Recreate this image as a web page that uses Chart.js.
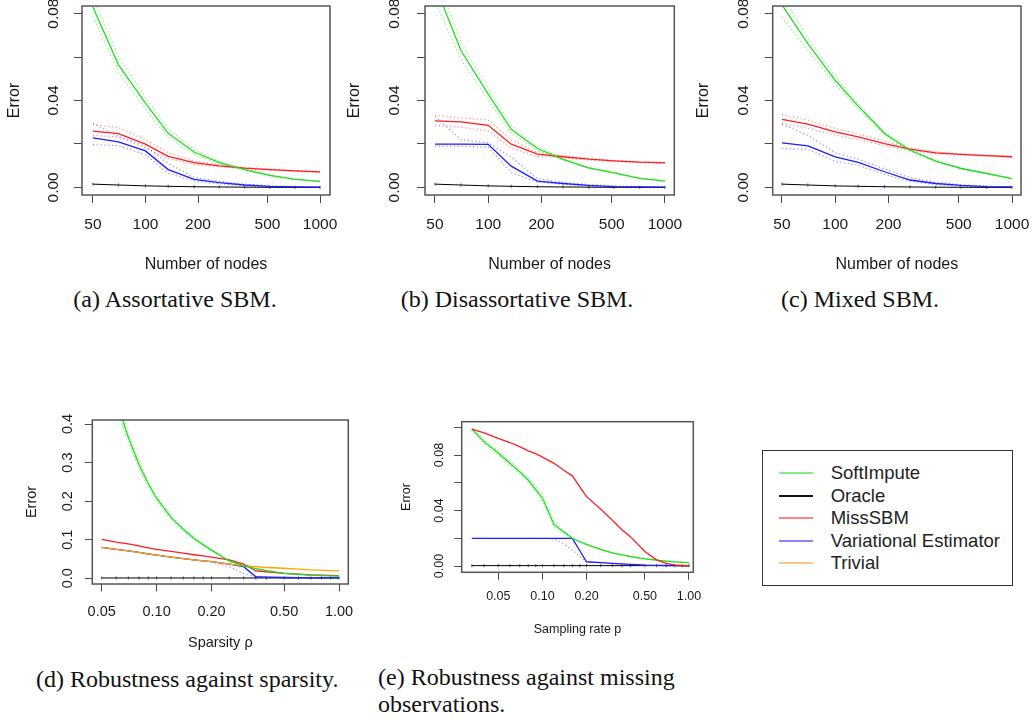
<!DOCTYPE html>
<html>
<head>
<meta charset="utf-8">
<script src="https://cdn.jsdelivr.net/npm/chart.js@4.4.1/dist/chart.umd.min.js"></script>
<style>
html,body{margin:0;padding:0;background:#fff;width:1034px;height:723px;overflow:hidden;position:relative;}
canvas{position:absolute;}
.cap{position:absolute;font-family:'Liberation Serif','Times New Roman',serif;font-size:24px;line-height:27px;color:#111;white-space:nowrap;}
.ctr{transform:translateX(-50%);}
#legend{position:absolute;left:762px;top:450px;width:251px;height:136px;box-sizing:border-box;border:1px solid #333;font-family:'Liberation Sans',Arial,sans-serif;font-size:18.5px;color:#222;}
.li{position:absolute;left:0;width:100%;height:22px;line-height:22px;}
.li .sw{position:absolute;left:16px;width:34px;top:10px;height:2px;}
.li .tx{position:absolute;left:67.7px;top:0;white-space:nowrap;}
</style>
</head>
<body>
<canvas id="pa"></canvas>
<canvas id="pb"></canvas>
<canvas id="pc"></canvas>
<canvas id="pd"></canvas>
<canvas id="pe"></canvas>

<div class="cap ctr" style="left:175px;top:286px;">(a) Assortative SBM.</div>
<div class="cap ctr" style="left:517px;top:286px;">(b) Disassortative SBM.</div>
<div class="cap ctr" style="left:860px;top:286px;">(c) Mixed SBM.</div>
<div class="cap" style="left:36px;top:666px;">(d) Robustness against sparsity.</div>
<div class="cap" style="left:378px;top:664px;">(e) Robustness against missing<br>observations.</div>

<div id="legend"></div>

<script>
// ---------- categories / tick labels ----------
const NODES = [50, 70, 100, 135, 190, 265, 370, 515, 720, 1000];
const NODE_TICKS = [50, 100, 200, 500, 1000];
const NODE_TICK_LABELS = ['50', '100', '200', '500', '1000'];
const ERR_TICKS_ABC = [0, 0.02, 0.04, 0.06, 0.08];
const ERR_LABELS_ABC = ['0.00', '', '0.04', '', '0.08'];

const RHO = [0.05, 0.06, 0.07, 0.08, 0.09, 0.10, 0.12, 0.14, 0.16, 0.18, 0.20, 0.25, 0.30, 0.35, 0.40, 0.50, 0.60, 0.70, 0.80, 0.90, 1.00];
const RHO_TICKS = [0.05, 0.10, 0.20, 0.50, 1.00];
const RHO_TICK_LABELS = ['0.05', '0.10', '0.20', '0.50', '1.00'];
const ERR_TICKS_D = [0, 0.1, 0.2, 0.3, 0.4];
const ERR_LABELS_D = ['0.0', '0.1', '0.2', '0.3', '0.4'];

const PRATE = [0.033, 0.04, 0.05, 0.06, 0.07, 0.08, 0.09, 0.10, 0.12, 0.14, 0.16, 0.18, 0.20, 0.25, 0.30, 0.35, 0.40, 0.50, 0.60, 0.70, 0.80, 0.90, 1.00];
const PRATE_TICKS = [0.05, 0.10, 0.20, 0.50, 1.00];
const PRATE_TICK_LABELS = ['0.05', '0.10', '0.20', '0.50', '1.00'];
const ERR_TICKS_E = [0, 0.02, 0.04, 0.06, 0.08, 0.10];
const ERR_LABELS_E = ['0.00', '', '0.04', '', '0.08', ''];

const SERIES_NAMES = ['SoftImpute', 'Oracle', 'MissSBM', 'Variational Estimator', 'Trivial'];

// ---------- (a) Assortative SBM ----------
const A_soft    = [0.083, 0.0564, 0.0388, 0.0249, 0.0163, 0.0114, 0.0082, 0.0055, 0.0037, 0.0028];
const A_soft_hi = [0.088, 0.060, 0.0415, 0.027, 0.0175, 0.012, 0.0086, 0.0058, 0.0039, 0.0029];
const A_soft_lo = [0.0785, 0.053, 0.036, 0.023, 0.0152, 0.0108, 0.0078, 0.0052, 0.0035, 0.0027];
const A_miss    = [0.0259, 0.0248, 0.0199, 0.0143, 0.0114, 0.0099, 0.0089, 0.0082, 0.0076, 0.0071];
const A_miss_hi = [0.029, 0.0275, 0.022, 0.016, 0.0122, 0.0104, 0.0092, 0.0085, 0.0078, 0.0073];
const A_miss_lo = [0.024, 0.0232, 0.018, 0.0132, 0.0107, 0.0095, 0.0086, 0.0079, 0.0074, 0.0069];
const A_var     = [0.0228, 0.021, 0.0168, 0.0082, 0.0037, 0.0022, 0.0011, 0.0005, 0.0002, 0.0001];
const A_var_hi  = [0.0295, 0.0235, 0.019, 0.011, 0.0046, 0.0028, 0.0015, 0.0008, 0.0004, 0.0002];
const A_var_lo  = [0.0197, 0.0192, 0.015, 0.0065, 0.003, 0.0017, 0.0008, 0.0003, 0.0001, 0.0];
const A_oracle  = [0.0015, 0.0011, 0.0007, 0.0005, 0.0003, 0.0002, 0.0001, 0.00005, 0.00002, 0.0];

// ---------- (b) Disassortative SBM ----------
const B_soft    = [0.093, 0.0631, 0.0429, 0.0267, 0.0179, 0.0129, 0.009, 0.0067, 0.0042, 0.0029];
const B_soft_hi = [0.099, 0.067, 0.0455, 0.0285, 0.0188, 0.0133, 0.0093, 0.0069, 0.0043, 0.003];
const B_soft_lo = [0.086, 0.059, 0.040, 0.025, 0.017, 0.0125, 0.0087, 0.0065, 0.0041, 0.0028];
const B_miss    = [0.0306, 0.0302, 0.0286, 0.0199, 0.0153, 0.0141, 0.013, 0.0122, 0.0116, 0.0113];
const B_miss_hi = [0.0332, 0.032, 0.031, 0.022, 0.016, 0.0146, 0.0134, 0.0125, 0.0118, 0.0115];
const B_miss_lo = [0.0285, 0.0278, 0.0259, 0.018, 0.0143, 0.0136, 0.0126, 0.0119, 0.0114, 0.0111];
const B_var     = [0.0199, 0.0199, 0.0198, 0.0098, 0.0029, 0.0018, 0.0009, 0.0004, 0.0002, 0.0001];
const B_var_hi  = [0.0327, 0.022, 0.0205, 0.014, 0.004, 0.0024, 0.0013, 0.0007, 0.0004, 0.0002];
const B_var_lo  = [0.019, 0.019, 0.0185, 0.0068, 0.0025, 0.0014, 0.0006, 0.0002, 0.0001, 0.0];
const B_oracle  = [0.0015, 0.0011, 0.0007, 0.0005, 0.0003, 0.0002, 0.0001, 0.00005, 0.00002, 0.0];

// ---------- (c) Mixed SBM ----------
const C_soft    = [0.084, 0.0662, 0.0493, 0.0374, 0.0248, 0.0171, 0.0121, 0.0087, 0.0064, 0.004];
const C_soft_hi = [0.088, 0.069, 0.051, 0.0385, 0.0255, 0.0175, 0.0124, 0.0089, 0.0065, 0.0041];
const C_soft_lo = [0.0785, 0.063, 0.0475, 0.036, 0.024, 0.0167, 0.0118, 0.0085, 0.0063, 0.0039];
const C_miss    = [0.0313, 0.0291, 0.0256, 0.0233, 0.0202, 0.0176, 0.0159, 0.0152, 0.0146, 0.0141];
const C_miss_hi = [0.0336, 0.031, 0.0272, 0.0247, 0.0213, 0.0183, 0.0163, 0.0155, 0.0148, 0.0143];
const C_miss_lo = [0.0294, 0.0273, 0.024, 0.022, 0.0192, 0.017, 0.0155, 0.0149, 0.0144, 0.0139];
const C_var     = [0.0205, 0.0191, 0.0141, 0.0115, 0.0072, 0.0034, 0.0018, 0.0009, 0.0004, 0.0002];
const C_var_hi  = [0.029, 0.024, 0.016, 0.013, 0.0085, 0.0045, 0.0024, 0.0012, 0.0006, 0.0003];
const C_var_lo  = [0.0179, 0.0175, 0.012, 0.0102, 0.006, 0.0028, 0.0013, 0.0006, 0.0002, 0.0001];
const C_oracle  = [0.0015, 0.0011, 0.0007, 0.0005, 0.0003, 0.0002, 0.0001, 0.00005, 0.00002, 0.0];

// ---------- (d) Robustness against sparsity ----------
const D_soft    = [0.57, 0.46, 0.365, 0.295, 0.245, 0.207, 0.158, 0.127, 0.104, 0.087, 0.073, 0.045, 0.032, 0.025, 0.02, 0.013, 0.010, 0.008, 0.007, 0.0065, 0.006];
const D_soft_hi = [0.59, 0.475, 0.378, 0.305, 0.253, 0.214, 0.163, 0.131, 0.107, 0.09, 0.075, 0.047, 0.033, 0.026, 0.021, 0.0135, 0.0105, 0.0085, 0.0075, 0.007, 0.0065];
const D_soft_lo = [0.55, 0.445, 0.352, 0.285, 0.237, 0.2, 0.153, 0.123, 0.101, 0.084, 0.071, 0.043, 0.031, 0.024, 0.019, 0.0125, 0.0095, 0.0075, 0.0065, 0.006, 0.0055];
const D_miss    = [0.101, 0.094, 0.089, 0.084, 0.079, 0.075, 0.07, 0.065, 0.061, 0.058, 0.055, 0.0475, 0.037, 0.019, 0.017, 0.013, 0.011, 0.009, 0.008, 0.0075, 0.007];
const D_triv    = [0.080, 0.075, 0.071, 0.067, 0.063, 0.060, 0.055, 0.051, 0.048, 0.045, 0.043, 0.037, 0.032, 0.030, 0.028, 0.026, 0.024, 0.022, 0.021, 0.020, 0.019];
const D_var     = [0.080, 0.075, 0.071, 0.067, 0.063, 0.060, 0.055, 0.051, 0.048, 0.045, 0.043, 0.037, 0.030, 0.004, 0.003, 0.002, 0.0015, 0.001, 0.001, 0.001, 0.001];
const D_var_lo  = [0.080, 0.075, 0.071, 0.067, 0.063, 0.060, 0.055, 0.051, 0.048, 0.045, 0.042, 0.030, 0.012, 0.003, 0.0025, 0.0015, 0.001, 0.001, 0.0008, 0.0008, 0.0008];
const D_oracle  = [0.0008, 0.0008, 0.0008, 0.0008, 0.0008, 0.0008, 0.0008, 0.0008, 0.0008, 0.0008, 0.0008, 0.0008, 0.0008, 0.0008, 0.0008, 0.0008, 0.0008, 0.0008, 0.0008, 0.0008, 0.0008];

// ---------- (e) Robustness against missing observations ----------
const E_miss    = [0.0987, 0.096, 0.092, 0.089, 0.086, 0.083, 0.081, 0.0785, 0.074, 0.069, 0.065, 0.057, 0.050, 0.041, 0.033, 0.026, 0.021, 0.0105, 0.0045, 0.002, 0.0008, 0.0004, 0.0002];
const E_soft    = [0.0987, 0.0895, 0.0815, 0.074, 0.068, 0.062, 0.055, 0.049, 0.030, 0.0245, 0.020, 0.0175, 0.0156, 0.012, 0.0095, 0.008, 0.0068, 0.0052, 0.0042, 0.0035, 0.003, 0.0027, 0.0024];
const E_soft_hi = [0.0995, 0.091, 0.083, 0.0755, 0.0695, 0.064, 0.0575, 0.0515, 0.032, 0.0255, 0.0205, 0.018, 0.016, 0.0123, 0.0097, 0.0082, 0.007, 0.0053, 0.0043, 0.0036, 0.0031, 0.0028, 0.0025];
const E_soft_lo = [0.098, 0.088, 0.080, 0.0725, 0.0665, 0.060, 0.053, 0.0465, 0.028, 0.0235, 0.0195, 0.017, 0.0152, 0.0117, 0.0093, 0.0078, 0.0066, 0.0051, 0.0041, 0.0034, 0.0029, 0.0026, 0.0023];
const E_var     = [0.020, 0.020, 0.020, 0.020, 0.020, 0.020, 0.020, 0.020, 0.020, 0.020, 0.020, 0.011, 0.0031, 0.0025, 0.0019, 0.0015, 0.0012, 0.0007, 0.0005, 0.0004, 0.0003, 0.0002, 0.0002];
const E_var_lo  = [0.020, 0.020, 0.020, 0.020, 0.020, 0.020, 0.020, 0.020, 0.0195, 0.016, 0.0115, 0.007, 0.003, 0.0023, 0.0017, 0.0013, 0.001, 0.0006, 0.0004, 0.0003, 0.0002, 0.0001, 0.0001];
const E_oracle  = [0.0003, 0.0003, 0.0003, 0.0003, 0.0003, 0.0003, 0.0003, 0.0003, 0.0003, 0.0003, 0.0003, 0.0003, 0.0003, 0.0003, 0.0003, 0.0003, 0.0003, 0.0003, 0.0003, 0.0003, 0.0003, 0.0003, 0.0003];

// ---------- styles ----------
const FAMILY = "'Liberation Sans', Arial, sans-serif";
const INK = '#1a1a1a';
const AXIS = '#4a4a4a';
const COL = {
  green: '#22dd22', greenLight: 'rgba(34,221,34,0.55)', greenLeg: '#86ee86',
  red: '#ff1e1e', redLight: 'rgba(255,30,30,0.5)', redLeg: '#ff8585',
  blue: '#1e1eff', blueLight: 'rgba(30,30,255,0.5)', blueLeg: '#8585ff',
  orange: '#ffa500', orangeLeg: '#ffc680',
  black: '#000000', blackLeg: '#111111'
};

function solid(xs, ys, color) {
  return { data: xs.map((x, i) => ({ x: x, y: ys[i] })), borderColor: color, borderWidth: 1.3,
           pointRadius: 0, tension: 0, fill: false };
}
function dotted(xs, ys, color) {
  return { data: xs.map((x, i) => ({ x: x, y: ys[i] })), borderColor: color, borderWidth: 1.2,
           borderDash: [1.2, 2.6], pointRadius: 0, tension: 0, fill: false };
}
function oracle(xs, ys) {
  return { data: xs.map((x, i) => ({ x: x, y: ys[i] })), borderColor: COL.black, borderWidth: 1,
           pointStyle: 'line', pointRotation: 90, pointRadius: 1.6, pointBorderColor: 'rgba(0,0,0,0.7)',
           pointBorderWidth: 0.9, tension: 0, fill: false };
}

const boxPlugin = {
  id: 'rbox',
  afterDraw(chart) {
    const { ctx, chartArea: a } = chart;
    ctx.save();
    ctx.strokeStyle = '#555';
    ctx.lineWidth = 1.5;
    ctx.strokeRect(a.left, a.top, a.right - a.left, a.bottom - a.top);
    ctx.restore();
  }
};

function makeChart(p) {
  const cv = document.getElementById(p.id);
  cv.width = p.w; cv.height = p.h;
  cv.style.left = p.left + 'px'; cv.style.top = p.top + 'px';
  const tickFont = { family: FAMILY, size: p.tickSize };
  const titleFont = { family: FAMILY, size: p.titleSize };
  const m = document.createElement('canvas').getContext('2d');
  m.font = p.tickSize + 'px ' + FAMILY;
  const widest = Math.max.apply(null, p.yLabels.map(s => m.measureText(s).width));
  const yPad = p.yLabelDist - p.tl - widest / 2;
  const tlh = p.tickSize * 1.2, ttl = p.titleSize * 1.2;
  const xTickPad = p.xLabelY - p.box.b - p.tl - tlh / 2;
  const xTitlePad = p.h - p.xTitleY - ttl / 2;
  const yTitlePad = p.yTitleX - ttl / 2;
  const grid = { display: true, drawOnChartArea: false, drawTicks: true, tickLength: p.tl, color: AXIS, lineWidth: 1 };
  new Chart(cv, {
    type: 'line',
    data: { datasets: p.datasets },
    options: {
      responsive: false, animation: false, events: [], devicePixelRatio: 1,
      layout: { padding: { left: 0, right: p.w - p.box.r, top: p.box.t, bottom: 0 } },
      plugins: { legend: { display: false }, tooltip: { enabled: false }, title: { display: false } },
      scales: {
        x: {
          type: 'logarithmic', position: 'bottom', min: p.xMin, max: p.xMax, bounds: 'data',
          afterBuildTicks: s => { s.ticks = p.xTicks.map(v => ({ value: v })); },
          afterFit: s => { s.height = p.h - p.box.b; s.paddingLeft = 0; s.paddingRight = 0; s.paddingTop = 0; s.paddingBottom = 0; },
          ticks: { autoSkip: false, minRotation: 0, maxRotation: 0, padding: xTickPad, font: tickFont, color: INK,
                   callback: (v, i) => p.xLabels[i] },
          grid: grid, border: { display: false },
          title: { display: true, text: p.xTitle, font: titleFont, color: INK, padding: { top: 0, bottom: xTitlePad } }
        },
        y: {
          type: 'linear', position: 'left', min: p.yMin, max: p.yMax, bounds: 'data',
          afterBuildTicks: s => { s.ticks = p.yTicks.map(v => ({ value: v })); },
          afterFit: s => { s.width = p.box.l; s.paddingLeft = 0; s.paddingRight = 0; s.paddingTop = 0; s.paddingBottom = 0; },
          ticks: { autoSkip: false, minRotation: 90, maxRotation: 90, crossAlign: 'center', padding: yPad, font: tickFont, color: INK,
                   callback: (v, i) => p.yLabels[i] },
          grid: grid, border: { display: false },
          title: { display: true, text: 'Error', font: titleFont, color: INK, padding: { top: yTitlePad, bottom: 0 } }
        }
      }
    },
    plugins: [boxPlugin]
  });
}

function nodePanel(id, left, w, box, yLabelDist, yTitleX, xMin, xMax, S) {
  makeChart({
    id: id, left: left, top: 0, w: w, h: 285, box: box, tl: 8,
    tickSize: 15.5, titleSize: 16,
    xMin: xMin, xMax: xMax, yMin: -0.0035, yMax: 0.0835,
    xTicks: NODE_TICKS, xLabels: NODE_TICK_LABELS, yTicks: ERR_TICKS_ABC, yLabels: ERR_LABELS_ABC,
    xTitle: 'Number of nodes', xLabelY: 225, xTitleY: 265, yLabelDist: yLabelDist, yTitleX: yTitleX,
    datasets: [
      solid(NODES, S.soft, COL.green),
      solid(NODES, S.miss, COL.red),
      solid(NODES, S.vari, COL.blue),
      oracle(NODES, S.orc),
      dotted(NODES, S.softHi, COL.greenLight),
      dotted(NODES, S.softLo, COL.greenLight),
      dotted(NODES, S.missHi, COL.redLight),
      dotted(NODES, S.missLo, COL.redLight),
      dotted(NODES, S.varHi, COL.blueLight),
      dotted(NODES, S.varLo, COL.blueLight)
    ]
  });
}

nodePanel('pa', 0, 340, { l: 82, r: 330, t: 6, b: 195 }, 28.5, 15, 43.3, 1140,
  { soft: A_soft, softHi: A_soft_hi, softLo: A_soft_lo, miss: A_miss, missHi: A_miss_hi, missLo: A_miss_lo,
    vari: A_var, varHi: A_var_hi, varLo: A_var_lo, orc: A_oracle });
nodePanel('pb', 345, 340, { l: 80, r: 329.3, t: 6, b: 195 }, 30, 10, 43.9, 1129,
  { soft: B_soft, softHi: B_soft_hi, softLo: B_soft_lo, miss: B_miss, missHi: B_miss_hi, missLo: B_miss_lo,
    vari: B_var, varHi: B_var_hi, varLo: B_var_lo, orc: B_oracle });
nodePanel('pc', 690, 344, { l: 82.7, r: 331, t: 6, b: 195 }, 29.4, 13.3, 44.3, 1124,
  { soft: C_soft, softHi: C_soft_hi, softLo: C_soft_lo, miss: C_miss, missHi: C_miss_hi, missLo: C_miss_lo,
    vari: C_var, varHi: C_var_hi, varLo: C_var_lo, orc: C_oracle });

makeChart({
  id: 'pd', left: 0, top: 405, w: 360, h: 250, box: { l: 92.3, r: 348.3, t: 15, b: 179 }, tl: 7.5,
  tickSize: 14.5, titleSize: 14.5,
  xMin: 0.0444, xMax: 1.124, yMin: -0.0148, yMax: 0.4104,
  xTicks: RHO_TICKS, xLabels: RHO_TICK_LABELS, yTicks: ERR_TICKS_D, yLabels: ERR_LABELS_D,
  xTitle: 'Sparsity ρ', xLabelY: 206.7, xTitleY: 238.3, yLabelDist: 24, yTitleX: 31.7,
  datasets: [
    solid(RHO, D_soft, COL.green),
    solid(RHO, D_miss, COL.red),
    solid(RHO, D_triv, COL.orange),
    solid(RHO, D_var, COL.blue),
    oracle(RHO, D_oracle),
    dotted(RHO, D_soft_hi, COL.greenLight),
    dotted(RHO, D_soft_lo, COL.greenLight),
    dotted(RHO, D_var_lo, COL.blueLight)
  ]
});

makeChart({
  id: 'pe', left: 360, top: 405, w: 345, h: 250, box: { l: 101.7, r: 333.3, t: 16.7, b: 167.3 }, tl: 7.5,
  tickSize: 12.5, titleSize: 12.5,
  xMin: 0.02814, xMax: 1.07, yMin: -0.0045, yMax: 0.104,
  xTicks: PRATE_TICKS, xLabels: PRATE_TICK_LABELS, yTicks: ERR_TICKS_E, yLabels: ERR_LABELS_E,
  xTitle: 'Sampling rate p', xLabelY: 191.7, xTitleY: 225, yLabelDist: 21.7, yTitleX: 46.7,
  datasets: [
    solid(PRATE, E_miss, COL.red),
    solid(PRATE, E_soft, COL.green),
    solid(PRATE, E_var, COL.blue),
    oracle(PRATE, E_oracle),
    dotted(PRATE, E_soft_hi, COL.greenLight),
    dotted(PRATE, E_soft_lo, COL.greenLight),
    dotted(PRATE, E_var_lo, COL.blueLight)
  ]
});

// ---------- legend ----------
const LEG_COLORS = [COL.greenLeg, COL.blackLeg, COL.redLeg, COL.blueLeg, COL.orangeLeg];
const LEG_ROW_Y = [23.3, 45.8, 68.3, 90.5, 113];
const leg = document.getElementById('legend');
SERIES_NAMES.forEach((name, i) => {
  const row = document.createElement('div');
  row.className = 'li';
  row.style.top = (LEG_ROW_Y[i] - 11 - 1) + 'px';
  const sw = document.createElement('span');
  sw.className = 'sw';
  sw.style.background = LEG_COLORS[i];
  const tx = document.createElement('span');
  tx.className = 'tx';
  tx.textContent = name;
  row.appendChild(sw); row.appendChild(tx);
  leg.appendChild(row);
});
</script>
</body>
</html>
